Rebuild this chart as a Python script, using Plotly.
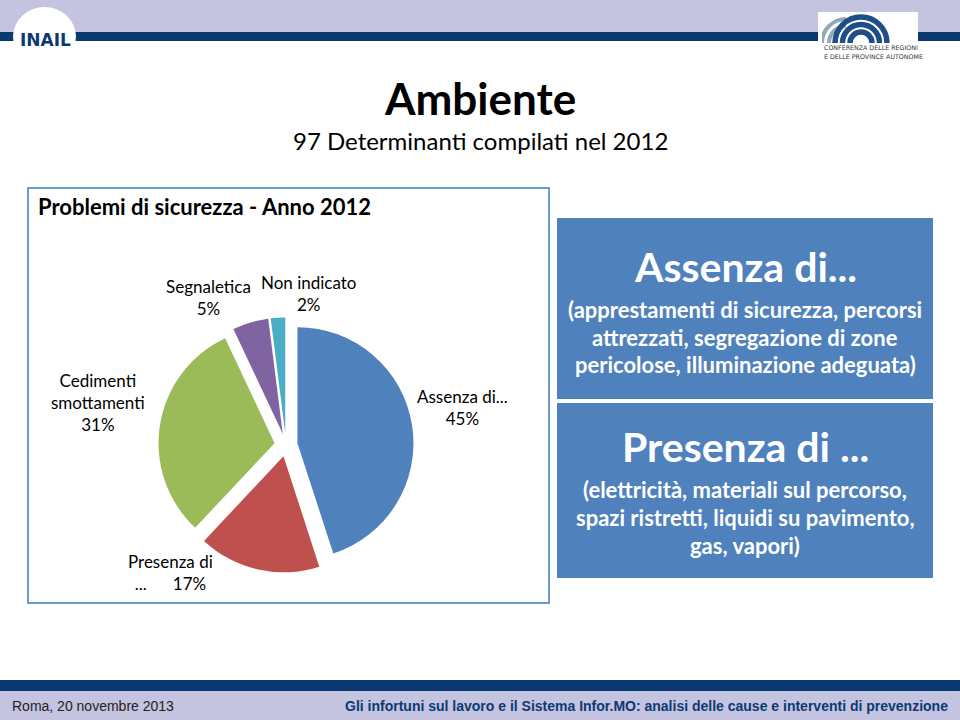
import plotly.graph_objects as go

# ---------------- data ----------------
slice_labels = ["Assenza di...", "Presenza di ...", "Cedimenti smottamenti", "Segnaletica", "Non indicato"]
slice_values = [45, 17, 31, 5, 2]
slice_colors = ["#4F81BD", "#C0504D", "#9BBB59", "#8064A2", "#4BACC6"]
label_lines = [["Assenza di..."], ["Presenza di", "..."], ["Cedimenti", "smottamenti"], ["Segnaletica"], ["Non indicato"]]

title_main = "Ambiente"
title_sub = "97 Determinanti compilati nel 2012"
chart_title = "Problemi di sicurezza - Anno 2012"
box1_head = "Assenza di..."
box1_lines = ["(apprestamenti di sicurezza, percorsi", "attrezzati, segregazione di zone", "pericolose, illuminazione adeguata)"]
box2_head = "Presenza di ..."
box2_lines = ["(elettricità, materiali sul percorso,", "spazi ristretti, liquidi su pavimento,", "gas, vapori)"]
footer_left = "Roma, 20 novembre 2013"
footer_right = "Gli infortuni sul lavoro e il Sistema Infor.MO: analisi delle cause e interventi di prevenzione"

W, H = 960, 720
FONT = "Lato"
NAVY = "#0B3A72"
LAV = "#C4C3E0"


def px(x):
    return x / W


def py(y):
    return 1 - y / H


# ---------------- pie ----------------
cx, cy, r, pull = 286, 445, 116, 0.10
half = r * (1 + pull)
fig = go.Figure(go.Pie(
    labels=slice_labels, values=slice_values, sort=False, direction="clockwise", rotation=0,
    pull=[pull] * len(slice_values), marker=dict(colors=slice_colors, line=dict(width=0)),
    textinfo="none", hoverinfo="label+percent", showlegend=False,
    domain=dict(x=[px(cx - half), px(cx + half)], y=[py(cy + half), py(cy - half)]),
))

shapes = []
annotations = []


def rect(x0, y0, x1, y1, fill, line=None, lw=0):
    shapes.append(dict(type="rect", xref="paper", yref="paper", x0=px(x0), x1=px(x1), y0=py(y1), y1=py(y0),
                       fillcolor=fill, line=dict(color=line or fill, width=lw), layer="below"))


def circ(x, y, rr, line, lw, fill=None):
    shapes.append(dict(type="circle", xref="paper", yref="paper", x0=px(x - rr), x1=px(x + rr),
                       y0=py(y + rr), y1=py(y - rr), fillcolor=fill,
                       line=dict(color=line, width=lw), layer="below"))


def text(x, y, s, size, color="black", bold=False, xanchor="center", family=FONT, yanchor="middle"):
    if bold:
        s = "<b>" + s + "</b>"
    annotations.append(dict(x=px(x), y=py(y), xref="paper", yref="paper", text=s, showarrow=False,
                            xanchor=xanchor, yanchor=yanchor, font=dict(family=family, size=size, color=color)))


# header bands
rect(0, 0, W, 32, LAV)
rect(0, 32, W, 41, NAVY)
# INAIL logo
shapes.append(dict(type="circle", xref="paper", yref="paper", x0=px(13), x1=px(76), y0=py(66), y1=py(7),
                   fillcolor="white", line=dict(width=0), layer="below"))
rect(0, 41, 90, 70, "white")
text(45, 40, "INAIL", 17, NAVY, bold=True, family="DejaVu Sans")
# right logo
rect(819, 12, 918, 68, "white")
for rr in [24, 17]:
    circ(846, 43, rr, "#93A9BA", 4)
rect(846, 12, 918, 43, "white")
for rr in [26, 18.5, 11]:
    circ(861, 43, rr, "#1F4E86", 5.5)
rect(819, 43, 918, 80, "white")
rect(818, 12, 822, 43, "white")
text(822, 48, "CONFERENZA DELLE REGIONI", 6.3, "#333", xanchor="left", family="DejaVu Sans")
text(822, 57, "E DELLE PROVINCE AUTONOME", 6.3, "#333", xanchor="left", family="DejaVu Sans")

# footer bands
rect(0, 680, W, 691, NAVY)
rect(0, 691, W, H, LAV)
text(10, 706, footer_left, 14, "#222", xanchor="left", family="Liberation Sans")
text(950, 706, footer_right, 14, NAVY, bold=True, xanchor="right", family="Liberation Sans")

# titles
text(480, 98, title_main, 44, bold=True)
text(480, 141, title_sub, 24)

# chart box
rect(28, 188, 549, 603, "white", line="#6D9AD0", lw=2)
text(36, 207, chart_title, 22, bold=True, xanchor="left")

# pie labels
pct = [f"{v}%" for v in slice_values]
label_pos = [(462, 407), (170, 572), (98, 402), (208, 297), (309, 293)]
for i, lines in enumerate(label_lines):
    if i == 1:
        body = lines[0] + "<br>" + lines[1] + "\u00a0\u00a0\u00a0\u00a0\u00a0\u00a0" + pct[i]
    else:
        body = "<br>".join(lines + [pct[i]])
    text(label_pos[i][0], label_pos[i][1], body, 17)

# right boxes
rect(557, 218, 933, 399, "#4F81BD")
rect(557, 403, 933, 578, "#4F81BD")
text(745, 266, box1_head, 41, "white", bold=True)
for ln, yy in zip(box1_lines, [309, 337, 364]):
    text(745, yy, ln, 22, "white", bold=True)
text(745, 446, box2_head, 41, "white", bold=True)
for ln, yy in zip(box2_lines, [489, 517, 545]):
    text(745, yy, ln, 22, "white", bold=True)

fig.update_layout(width=W, height=H, margin=dict(l=0, r=0, t=0, b=0), paper_bgcolor="white",
                  plot_bgcolor="white", shapes=shapes, annotations=annotations, showlegend=False)
fig.write_html("out.html", config={"displayModeBar": False},
               post_script="document.body.style.margin='0';document.body.style.overflow='hidden';")
